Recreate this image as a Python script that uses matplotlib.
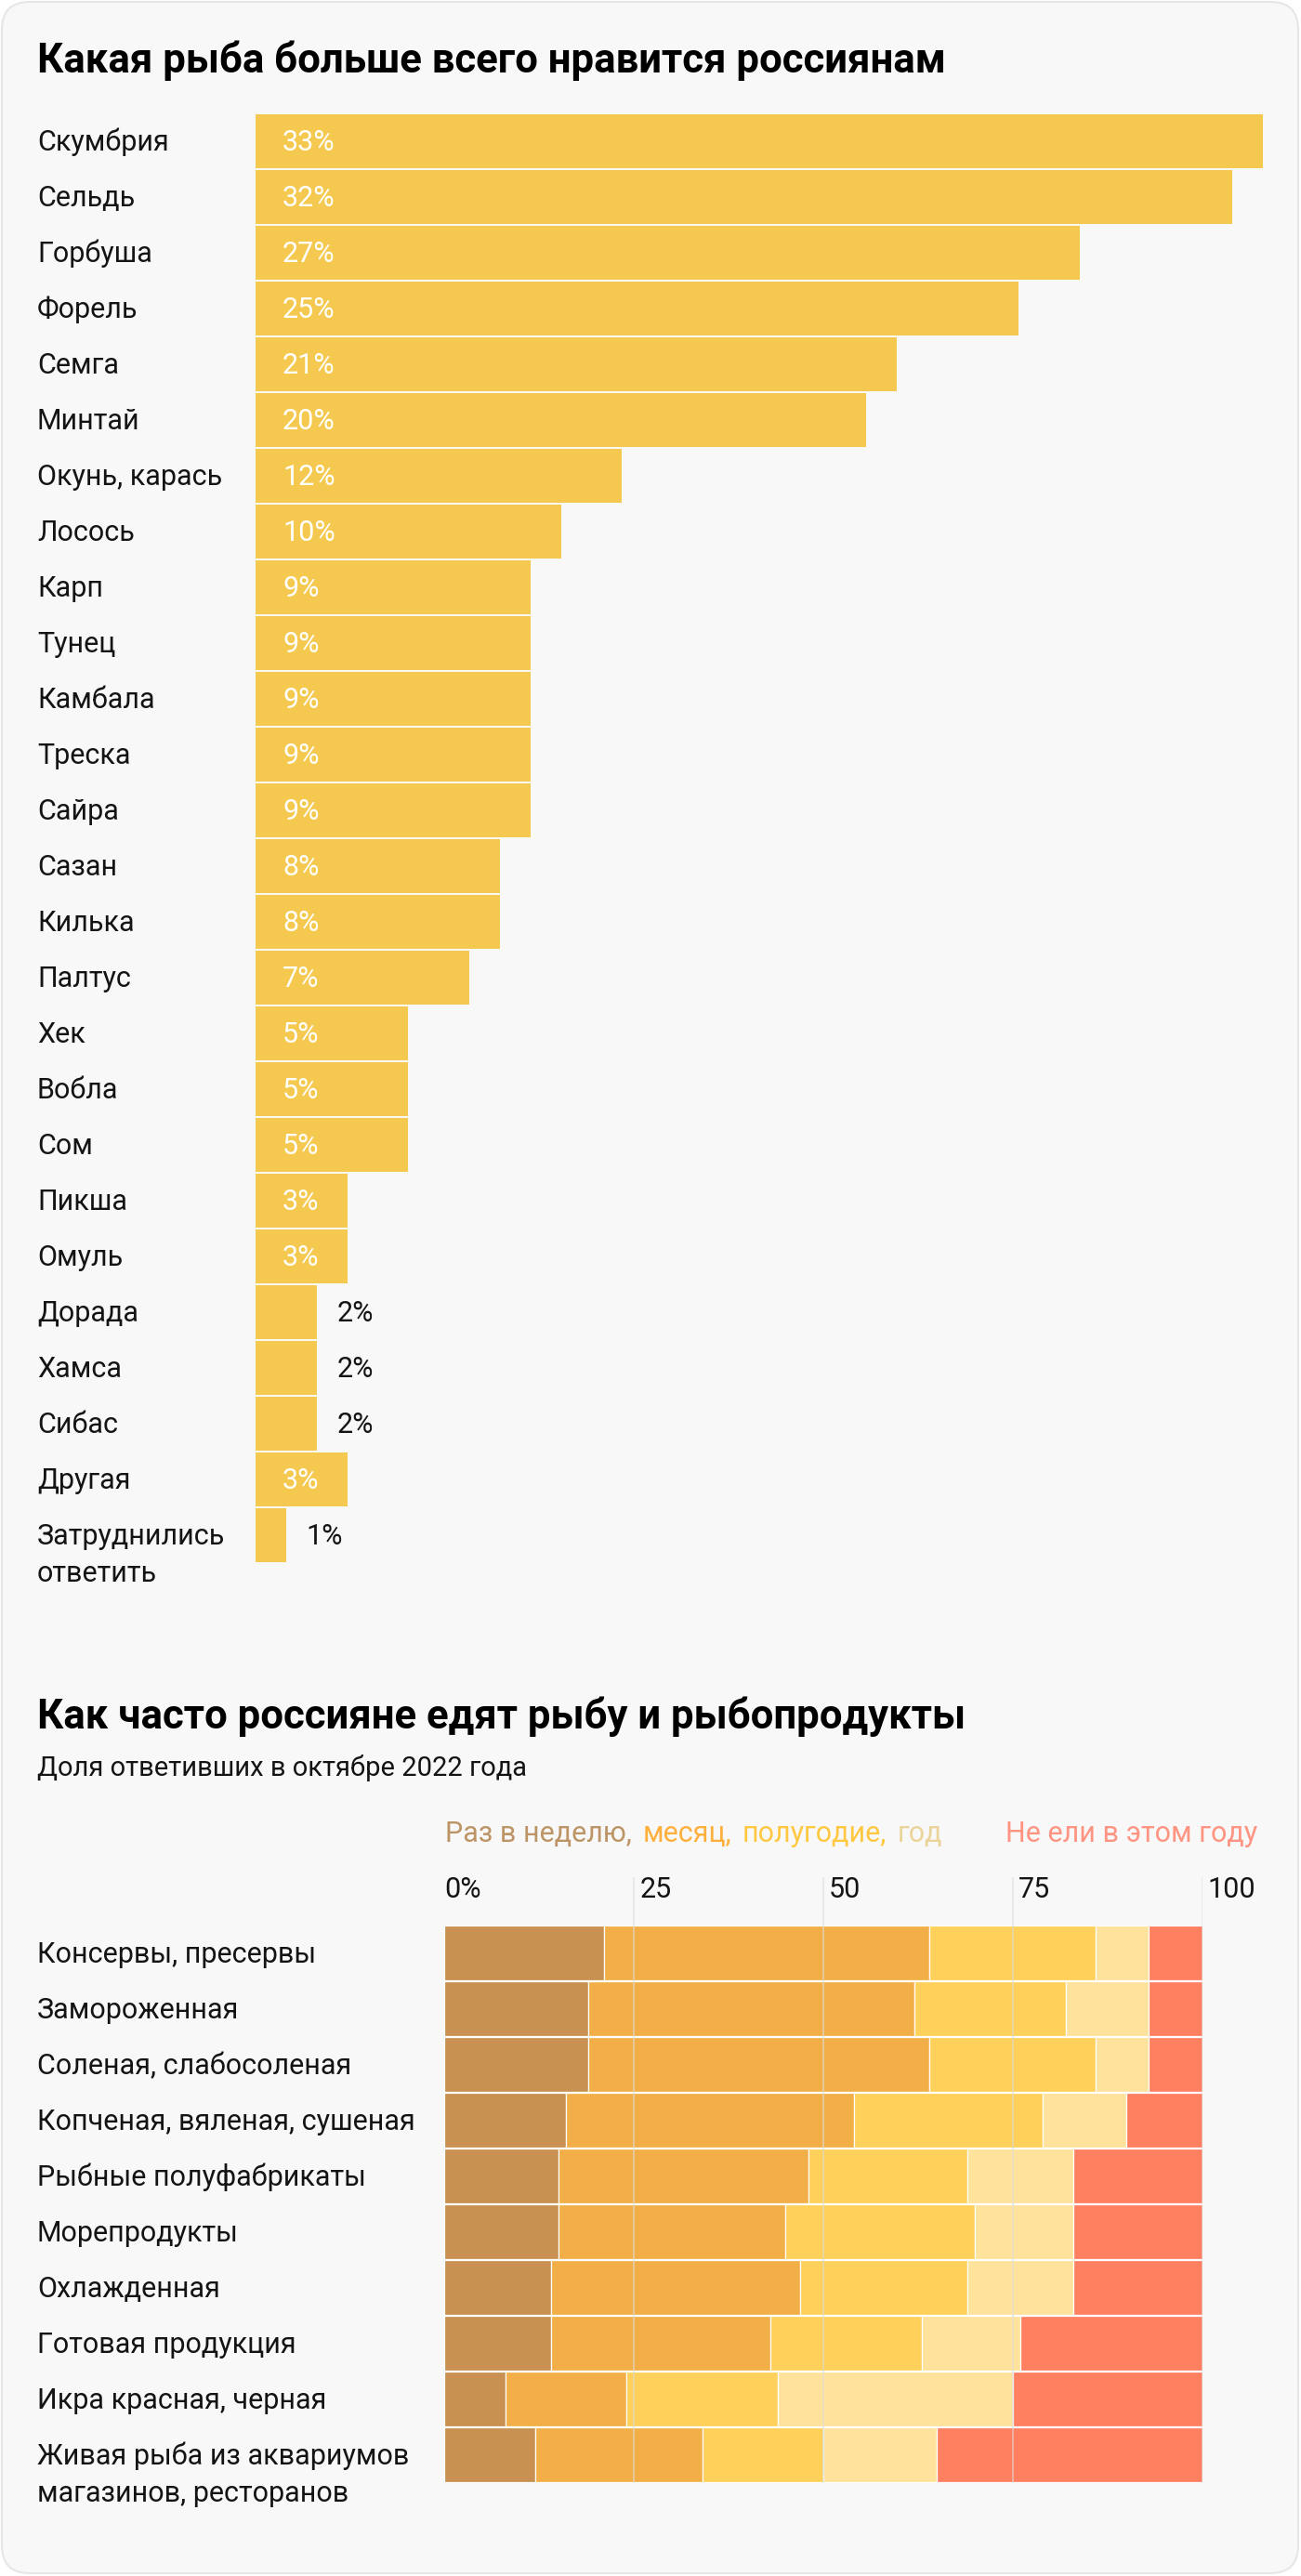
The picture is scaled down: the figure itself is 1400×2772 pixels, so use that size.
import matplotlib
matplotlib.use('Agg')
import matplotlib.pyplot as plt
from matplotlib.patches import FancyBboxPatch
from matplotlib.transforms import blended_transform_factory, offset_copy

plt.rcParams['font.family'] = ['Roboto', 'DejaVu Sans']

# ---------------- data ----------------
title1 = "Какая рыба больше всего нравится россиянам"
fish = ["Скумбрия", "Сельдь", "Горбуша", "Форель", "Семга", "Минтай",
        "Окунь, карась", "Лосось", "Карп", "Тунец", "Камбала", "Треска",
        "Сайра", "Сазан", "Килька", "Палтус", "Хек", "Вобла", "Сом",
        "Пикша", "Омуль", "Дорада", "Хамса", "Сибас", "Другая",
        "Затруднились\nответить"]
fish_pct = [33, 32, 27, 25, 21, 20, 12, 10, 9, 9, 9, 9, 9, 8, 8, 7,
            5, 5, 5, 3, 3, 2, 2, 2, 3, 1]

title2 = "Как часто россияне едят рыбу и рыбопродукты"
subtitle2 = "Доля ответивших в октябре 2022 года"
freq_cats = ["Консервы, пресервы", "Замороженная", "Соленая, слабосоленая",
             "Копченая, вяленая, сушеная", "Рыбные полуфабрикаты",
             "Морепродукты", "Охлажденная", "Готовая продукция",
             "Икра красная, черная",
             "Живая рыба из аквариумов\nмагазинов, ресторанов"]
weekly = [21, 19, 19, 16, 15, 15, 14, 14, 8, 12]
monthly = [43, 43, 45, 38, 33, 30, 33, 29, 16, 22]
halfyear = [22, 20, 22, 25, 21, 25, 22, 20, 20, 16]
yearly = [7, 11, 7, 11, 14, 13, 14, 13, 31, 15]
never = [7, 7, 7, 10, 17, 17, 17, 24, 25, 35]
legend_labels = ["Раз в неделю,", "месяц,", "полугодие,", "год"]
legend_never = "Не ели в этом году"
tick_vals = [0, 25, 50, 75, 100]
tick_labels = ["0%", "25", "50", "75", "100"]

# ---------------- styles ----------------
W, H, DPI = 1400, 2772, 100
BG = '#F8F8F8'
TXT = '#141414'
BAR1 = '#F5C94F'
seg_colors = ['#C89152', '#F2AF48', '#FFD05A', '#FFE39C', '#FF7F61']
leg_txt_colors = ['#BC9466', '#FFB03C', '#FFC840', '#EBD49A']
never_txt_color = '#FF9482'
FS = 22
TFS = 31.5

fig = plt.figure(figsize=(W / DPI, H / DPI), dpi=DPI, facecolor='white')

def fy(y):
    return 1 - y / H

# background card
bg = fig.add_axes([0, 0, 1, 1], zorder=-5)
bg.set_xlim(0, W)
bg.set_ylim(H, 0)
bg.axis('off')
bg.add_patch(FancyBboxPatch((2, 2), W - 5, H - 5,
                            boxstyle='round,pad=0,rounding_size=30',
                            facecolor=BG, edgecolor='#E6E6E6', lw=1.5))

# ---------------- chart 1 ----------------
fig.text(40 / W, fy(78), title1, fontsize=TFS, fontweight='bold',
         color='black', va='baseline', ha='left')

px_per_pct = 32.85
ax1_left, ax1_right = 275, 1375
row_top1, pitch = 121.7, 60
n1 = len(fish)
ax1 = fig.add_axes([ax1_left / W, fy(row_top1 + n1 * pitch),
                    (ax1_right - ax1_left) / W, n1 * pitch / H])
ax1.set_xlim(0, (ax1_right - ax1_left) / px_per_pct)
ax1.set_ylim(n1 - 0.5, -0.5)
ax1.axis('off')
ax1.barh(range(n1), fish_pct, height=58 / 60, color=BAR1, lw=0)

lab_tr = blended_transform_factory(fig.transFigure, ax1.transData)
for i, (name, v) in enumerate(zip(fish, fish_pct)):
    for k, line in enumerate(name.split('\n')):
        ax1.text(40 / W, i, line, fontsize=FS, color=TXT, ha='left',
                 va='baseline',
                 transform=offset_copy(lab_tr, fig=fig, x=0,
                                       y=-10.5 - 40 * k, units='dots'))
    if v > 2:
        ax1.text(0, i, f"{v}%", fontsize=FS, color='white', ha='left',
                 va='baseline',
                 transform=offset_copy(ax1.transData, fig=fig, x=29,
                                       y=-10.5, units='dots'))
    else:
        ax1.text(v, i, f"{v}%", fontsize=FS, color=TXT, ha='left',
                 va='baseline',
                 transform=offset_copy(ax1.transData, fig=fig, x=22,
                                       y=-10.5, units='dots'))

# ---------------- chart 2 ----------------
fig.text(40 / W, fy(1860), title2, fontsize=TFS, fontweight='bold',
         color='black', va='baseline', ha='left')
fig.text(40 / W, fy(1911), subtitle2, fontsize=FS - 1, color=TXT,
         va='baseline', ha='left')

x0, x100 = 478.4, 1293.5
grid_top, row_top2 = 2020, 2071.9
n2 = len(freq_cats)
bottom2 = row_top2 + n2 * pitch
ax2 = fig.add_axes([x0 / W, fy(bottom2), (x100 - x0) / W,
                    (bottom2 - grid_top) / H])
ax2.set_xlim(0, 100)
ax2.set_ylim(n2 - 0.5, -0.5 - (row_top2 - grid_top) / pitch)
ax2.axis('off')

series = [weekly, monthly, halfyear, yearly, never]
lefts = [0] * n2
for vals, col in zip(series, seg_colors):
    ax2.barh(range(n2), vals, left=lefts, height=59 / 60, color=col,
             edgecolor='white', lw=0.9, zorder=2)
    lefts = [a + b for a, b in zip(lefts, vals)]

for t in tick_vals[1:]:
    ax2.axvline(t, color='#DCDCDC', lw=1.2, alpha=0.65, zorder=4)

tick_tr = blended_transform_factory(ax2.transData, ax2.transAxes)
for t, lab in zip(tick_vals, tick_labels):
    ax2.text(t, 1, lab, fontsize=FS, color=TXT, ha='left', va='baseline',
             transform=offset_copy(tick_tr, fig=fig, x=0 if t == 0 else 6,
                                   y=-21.7, units='dots'))

lab_tr2 = blended_transform_factory(fig.transFigure, ax2.transData)
for i, name in enumerate(freq_cats):
    for k, line in enumerate(name.split('\n')):
        ax2.text(40 / W, i, line, fontsize=FS, color=TXT, ha='left',
                 va='baseline',
                 transform=offset_copy(lab_tr2, fig=fig, x=0,
                                       y=-10.5 - 40 * k, units='dots'))

# legend as coloured words
renderer = fig.canvas.get_renderer()
xpos = 478.6
for lab, col in zip(legend_labels, leg_txt_colors):
    t = fig.text(xpos / W, fy(1982), lab, fontsize=FS, color=col,
                 ha='left', va='baseline')
    bb = t.get_window_extent(renderer=renderer)
    xpos = bb.x1 + 12
fig.text(1353 / W, fy(1982), legend_never, fontsize=FS,
         color=never_txt_color, ha='right', va='baseline')

fig.savefig('out.png', dpi=DPI, facecolor='white')
